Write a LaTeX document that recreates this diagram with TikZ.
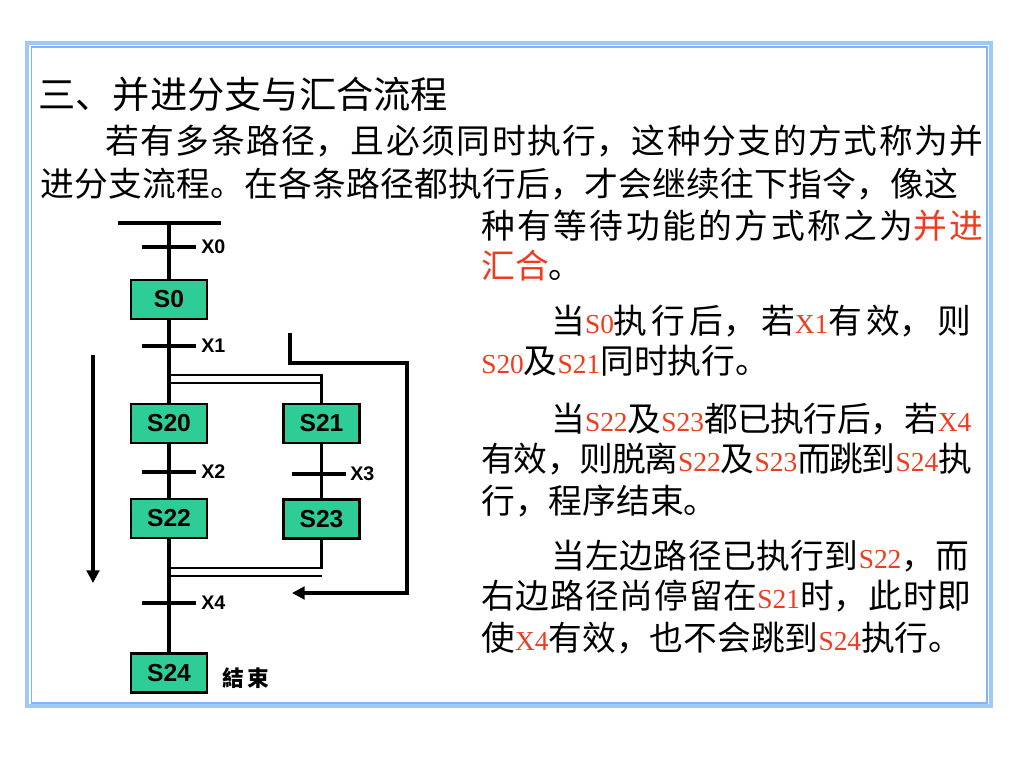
\documentclass[tikz,border=0pt]{standalone}
\usepackage{fontspec}
\setmainfont{Noto Sans CJK SC}
\newfontfamily\latinfont{Liberation Serif}
\newfontfamily\diagfont{Liberation Sans}
\usetikzlibrary{arrows.meta}
\XeTeXlinebreaklocale "zh"
\XeTeXlinebreakskip=0pt plus 3pt minus 1pt
\definecolor{stepgreen}{RGB}{46,204,150}
\definecolor{hlred}{RGB}{240,60,30}
\definecolor{frameblue}{RGB}{160,200,250}
\definecolor{framedark}{RGB}{130,180,245}
\newcommand{\redtxt}[1]{\textcolor{hlred}{#1}}
\newcommand{\sig}[1]{{\latinfont\fontsize{19.5pt}{20pt}\selectfont\textcolor{hlred}{#1}}}
% one justified line of given width
\newcommand{\fullline}[2]{\parbox[b]{#1}{\parfillskip=0pt\parindent=0pt\emergencystretch=0pt #2}}

\begin{document}
\begin{tikzpicture}[x=0.025cm, y=-0.025cm,
    wire/.style={line width=2.2pt},
    dblwire/.style={line width=1.7pt},
    stepbox/.style={draw=black, line width=1.6pt, fill=stepgreen, minimum width=1.9cm, minimum height=0.975cm, inner sep=0pt, font=\diagfont\bfseries\fontsize{17.5pt}{18pt}\selectfont},
    cond/.style={anchor=west, inner sep=0pt, font=\diagfont\bfseries\fontsize{14pt}{14pt}\selectfont},
    txt/.style={anchor=base west, inner sep=0pt, font=\fontsize{24pt}{28pt}\selectfont}]
    \fill[white] (0,0) rectangle (1024,768);
    \useasboundingbox (0,0) rectangle (1024,768);
    % frame
    \draw[frameblue, line width=2.85pt] (27,43) rectangle (991,706);
    \draw[framedark, line width=1pt] (31.5,47) rectangle (987,703);

    % text
    \node[txt] (title) at (38,109) {\fontsize{26.5pt}{30pt}\selectfont 三、并进分支与汇合流程};
    \node[txt] (para1a) at (105,153) {\fullline{21.95cm}{若有多条路径，且必须同时执行，这种分支的方式称为并}};
    \node[txt] (para1b) at (40,196) {\fullline{22.95cm}{进分支流程。在各条路径都执行后，才会继续往下指令，像这}};
    \node[txt] (para1c) at (481,238) {\fullline{12.55cm}{种有等待功能的方式称之为\redtxt{并进}}};
    \node[txt] (para1d) at (481,278) {\redtxt{汇合}。};
    \node[txt] (para2a) at (551,333) {\fullline{10.5cm}{当\sig{S0}执行后，若\sig{X1}有效，则}};
    \node[txt] (para2b) at (481,373) {\sig{S20}及\sig{S21}同时执行。};
    \node[txt] (para3a) at (551,431) {\fullline{10.5cm}{当\sig{S22}及\sig{S23}都已执行后，若\sig{X4}}};
    \node[txt] (para3b) at (481,471) {\fullline{12.25cm}{有效，则脱离\sig{S22}及\sig{S23}而跳到\sig{S24}执}};
    \node[txt] (para3c) at (481,513) {行，程序结束。};
    \node[txt] (para4a) at (551,568) {\fullline{10.45cm}{当左边路径已执行到\sig{S22}，而}};
    \node[txt] (para4b) at (481,608) {\fullline{12.25cm}{右边路径尚停留在\sig{S21}时，此时即}};
    \node[txt] (para4c) at (481,650) {使\sig{X4}有效，也不会跳到\sig{S24}执行。};

    % steps
    \node[stepbox] (s0) at (169,299.5) {S0};
    \node[stepbox] (s20) at (169,423.5) {S20};
    \node[stepbox] (s21) at (321.5,423.5) {S21};
    \node[stepbox] (s22) at (169,518.5) {S22};
    \node[stepbox] (s23) at (321.5,519) {S23};
    \node[stepbox] (s24) at (169,673) {S24};
    \node[anchor=west, inner sep=0pt, font=\bfseries\fontsize{15.5pt}{16pt}\selectfont] (endlbl) at (222,678) {結\,束};

    % initial rail and links
    \coordinate (railL) at (118,223);
    \coordinate (railR) at (221,223);
    \coordinate (rail) at (169,223);
    \draw[wire] (railL) -- (railR);
    \draw[wire] (rail) -- (s0);
    \draw[wire] (s0) -- (s20);
    \draw[wire] (s20) -- (s22);
    \draw[wire] (s22) -- (s24);
    \draw[wire] (s21) -- (s23);

    % transitions
    \coordinate (t0) at (169,247);
    \coordinate (t1) at (169,346);
    \coordinate (t2) at (169,472);
    \coordinate (t3) at (318.5,474);
    \coordinate (t4) at (169,603);
    \draw[wire] (t0) ++(-27,0) -- ++(54,0);
    \draw[wire] (t1) ++(-27,0) -- ++(54,0);
    \draw[wire] (t2) ++(-27,0) -- ++(54,0);
    \draw[wire] (t3) ++(-27,0) -- ++(54,0);
    \draw[wire] (t4) ++(-27,0) -- ++(54,0);
    \node[cond] (x0) at (201,247) {X0};
    \node[cond] (x1) at (201,346) {X1};
    \node[cond] (x2) at (201,472) {X2};
    \node[cond] (x3) at (350,474) {X3};
    \node[cond] (x4) at (201,603) {X4};

    % parallel branch and merge
    \coordinate (brA) at (169,375);
    \coordinate (brB) at (169,383);
    \draw[dblwire] (brA) -| (s21);
    \draw[dblwire] (brB) -- (brB -| s21);
    \coordinate (mgA) at (169,568);
    \coordinate (mgB) at (169,576);
    \draw[dblwire] (s23) |- (mgA);
    \draw[dblwire] (mgB) -- (mgB -| s23);

    % flow arrows
    \coordinate (flowtop) at (93,355);
    \coordinate (flowend) at (93,583);
    \draw[wire, -{Triangle[length=9pt,width=9pt]}] (flowtop) -- (flowend);
    \coordinate (rettop) at (290,333);
    \coordinate (retcorner) at (407,363);
    \coordinate (retend) at (292,593);
    \draw[wire, -{Triangle[length=9pt,width=9pt]}] (rettop) |- (retcorner) |- (retend);
\end{tikzpicture}
\end{document}
